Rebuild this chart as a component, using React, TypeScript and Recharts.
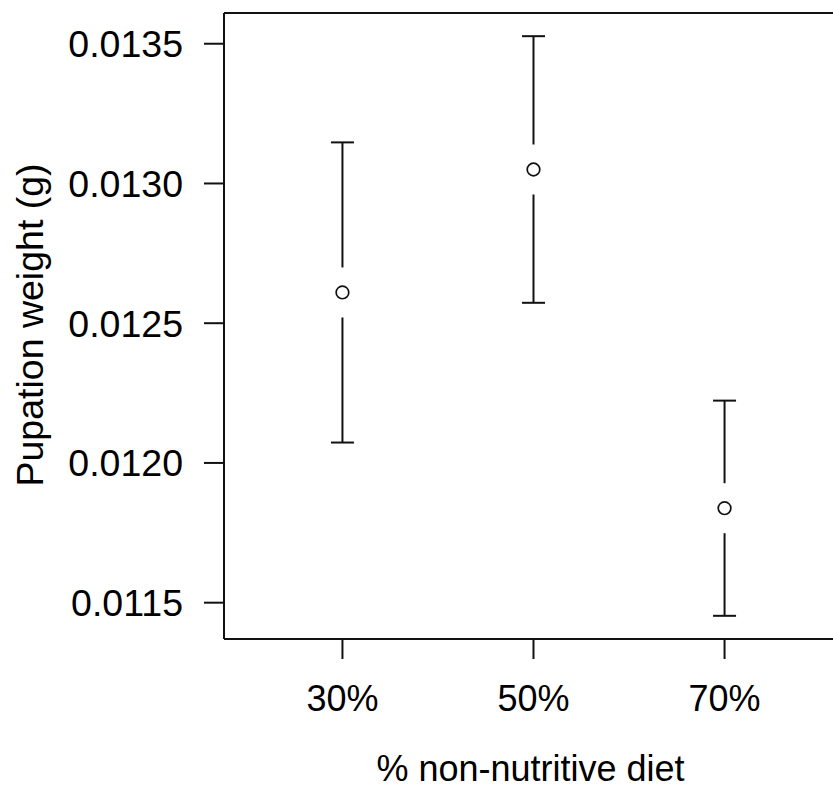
import React from 'react';
import { ScatterChart, Scatter, XAxis, YAxis, ErrorBar, ReferenceLine } from 'recharts';

// Treatment groups and mean pupation weight (g) with their error half-widths
const categories = ['30%', '50%', '70%'];
const meanWeight = [0.01261, 0.01305, 0.011838];
const errorWeight = [0.000537, 0.000477, 0.000385];
const yTicks = [0.0115, 0.012, 0.0125, 0.013, 0.0135];

const data = categories.map((label, i) => ({
  x: i + 1,
  label,
  y: meanWeight[i],
  err: errorWeight[i],
}));

// Base-graphics style 4% padding on each side of the axis range
const expand = (lo: number, hi: number): [number, number] => {
  const d = (hi - lo) * 0.04;
  return [lo - d, hi + d];
};
const yDomain = expand(
  Math.min(...meanWeight.map((m, i) => m - errorWeight[i])),
  Math.max(...meanWeight.map((m, i) => m + errorWeight[i]))
);
const xDomain = expand(0.5, categories.length + 0.5);

const INK = '#111';
const FONT = '"Liberation Sans", Arial, sans-serif';

// Open circle with a blank gap behind it so the bar breaks around the point
const PointShape = (props: any) => {
  const { cx, cy } = props;
  return (
    <g>
      <rect x={cx - 5} y={cy - 25} width={10} height={50} fill="#fff" />
      <circle cx={cx} cy={cy} r={6.3} fill="#fff" stroke={INK} strokeWidth={1.7} />
    </g>
  );
};

const XTitle = (props: any) => {
  const { viewBox } = props;
  return (
    <text
      x={viewBox.x + viewBox.width / 2 - 3}
      y={781}
      textAnchor="middle"
      fontSize={36}
      fontFamily={FONT}
      fill="#000"
    >
      % non-nutritive diet
    </text>
  );
};

const YTitle = (props: any) => {
  const { viewBox } = props;
  const x = 43;
  const y = viewBox.y + viewBox.height / 2 - 1;
  return (
    <text
      x={x}
      y={y}
      transform={`rotate(-90, ${x}, ${y})`}
      textAnchor="middle"
      fontSize={37.5}
      fontFamily={FONT}
      fill="#000"
    >
      Pupation weight (g)
    </text>
  );
};

const lineStyle = { stroke: INK, strokeWidth: 2 };

export default function App() {
  return (
    <div
      style={{
        position: 'absolute',
        left: 0,
        top: 0,
        width: 833,
        height: 789,
        overflow: 'hidden',
        background: '#fff',
        fontFamily: FONT,
      }}
    >
      <ScatterChart
        width={862}
        height={789}
        margin={{ top: 13, right: 19, bottom: 0, left: 0 }}
      >
        <XAxis
          dataKey="x"
          type="number"
          domain={xDomain}
          ticks={data.map((d) => d.x)}
          tickFormatter={(v: number) => categories[v - 1]}
          height={150}
          tickSize={20}
          tickMargin={26}
          tick={{ fill: '#000', fontSize: 36, fontFamily: FONT }}
          tickLine={lineStyle}
          axisLine={lineStyle}
          allowDataOverflow
          label={<XTitle />}
        />
        <YAxis
          dataKey="y"
          type="number"
          domain={yDomain}
          ticks={yTicks}
          tickFormatter={(v: number) => v.toFixed(4)}
          width={224}
          tickSize={20}
          tickMargin={21}
          tick={{ fill: '#000', fontSize: 37.5, fontFamily: FONT }}
          tickLine={lineStyle}
          axisLine={lineStyle}
          allowDataOverflow
          label={<YTitle />}
        />
        {/* top and right edges of the frame */}
        <ReferenceLine y={yDomain[1]} stroke={INK} strokeWidth={2} ifOverflow="visible" />
        <ReferenceLine x={xDomain[1]} stroke={INK} strokeWidth={2} ifOverflow="visible" />
        <Scatter data={data} shape={<PointShape />} isAnimationActive={false}>
          <ErrorBar
            dataKey="err"
            direction="y"
            width={11.5}
            stroke={INK}
            strokeWidth={2}
            isAnimationActive={false}
          />
        </Scatter>
      </ScatterChart>
    </div>
  );
}
